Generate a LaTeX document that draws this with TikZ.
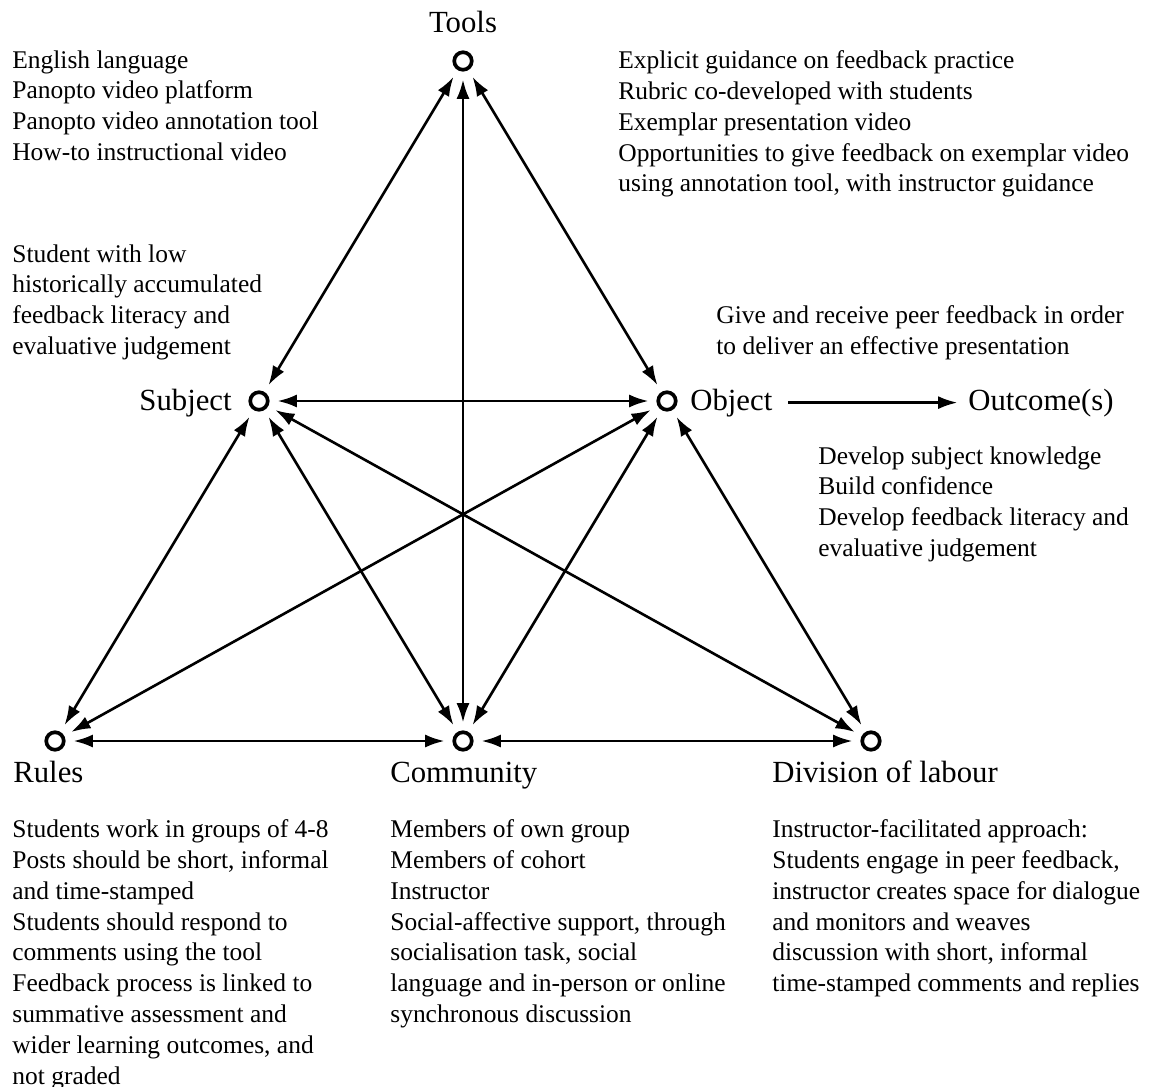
\documentclass[tikz,border=0pt]{standalone}
\usepackage{fontspec}
\setmainfont{Liberation Serif}
\usetikzlibrary{arrows.meta}

\tikzset{
  dot/.style={circle,draw,line width=2.1pt,minimum size=0.35cm,inner sep=0pt},
  corner/.style={font=\fontsize{17.5}{20}\selectfont,inner sep=0pt},
  note/.style={font=\fontsize{14.5}{17.6}\selectfont,align=left,anchor=north west,inner sep=0pt},
  tip/.style={Latex[length=11pt,width=7.4pt]},
  link/.style={line width=1.5pt,{Latex[length=11pt,width=7.4pt]}-{Latex[length=11pt,width=7.4pt]},shorten <=4.5pt,shorten >=4.5pt}
}

\begin{document}
\begin{tikzpicture}[x=0.02cm,y=-0.02cm]
  \useasboundingbox (0,0) rectangle (1149,1086);
  % Points of the triangle
  \node at(463,61)[dot](tools){};
  \node at(259,401)[dot](subject){};
  \node at(667,401)[dot](object){};
  \node at(55,741)[dot](rules){};
  \node at(463,741)[dot](community){};
  \node at(871,741)[dot](division){};
  % Labels
  \node at(463,32)[corner,anchor=base](toolslabel){Tools};
  \node at(232,410)[corner,anchor=base east](subjectlabel){Subject};
  \node at(690,410)[corner,anchor=base west](objectlabel){Object};
  \node at(968,410)[corner,anchor=base west](outcome){Outcome(s)};
  \node at(13,782)[corner,anchor=base west](ruleslabel){Rules};
  \node at(390,782)[corner,anchor=base west](communitylabel){Community};
  \node at(772,782)[corner,anchor=base west](divisionlabel){Division of labour};
  % Outer triangle
  \draw[link](tools) -- (subject);
  \draw[link](subject) -- (rules);
  \draw[link](tools) -- (object);
  \draw[link](object) -- (division);
  \draw[link](rules) -- (community);
  \draw[link](community) -- (division);
  % Inner links
  \draw[link](tools) -- (community);
  \draw[link](subject) -- (object);
  \draw[link](subject) -- (community);
  \draw[link](subject) -- (division);
  \draw[link](object) -- (community);
  \draw[link](object) -- (rules);
  % Object to outcome
  \draw[line width=1.5pt,-{Latex[length=11pt,width=7.4pt]},shorten <=9pt,shorten >=6pt](objectlabel.east) -- (outcome.west |- objectlabel.east);
  % Tools
  \node at(12,50)[note](toolsnote){English language\\Panopto video platform\\Panopto video annotation tool\\How-to instructional video};
  \node at(618,50)[note](guidance){Explicit guidance on feedback practice\\Rubric co-developed with students\\Exemplar presentation video\\Opportunities to give feedback on exemplar video\\using annotation tool, with instructor guidance};
  % Subject and object
  \node at(12,244)[note](subjectnote){Student with low\\historically accumulated\\feedback literacy and\\evaluative judgement};
  \node at(716,305)[note](objectnote){Give and receive peer feedback in order\\to deliver an effective presentation};
  \node at(818,446)[note](outcomenote){Develop subject knowledge\\Build confidence\\Develop feedback literacy and\\evaluative judgement};
  % Rules, community and division of labour
  \node at(12,819)[note](rulesnote){Students work in groups of 4-8\\Posts should be short, informal\\and time-stamped\\Students should respond to\\comments using the tool\\Feedback process is linked to\\summative assessment and\\wider learning outcomes, and\\not graded};
  \node at(390,819)[note](communitynote){Members of own group\\Members of cohort\\Instructor\\Social-affective support, through\\socialisation task, social\\language and in-person or online\\synchronous discussion};
  \node at(772,819)[note](divisionnote){Instructor-facilitated approach:\\Students engage in peer feedback,\\instructor creates space for dialogue\\and monitors and weaves\\discussion with short, informal\\time-stamped comments and replies};
\end{tikzpicture}
\end{document}
